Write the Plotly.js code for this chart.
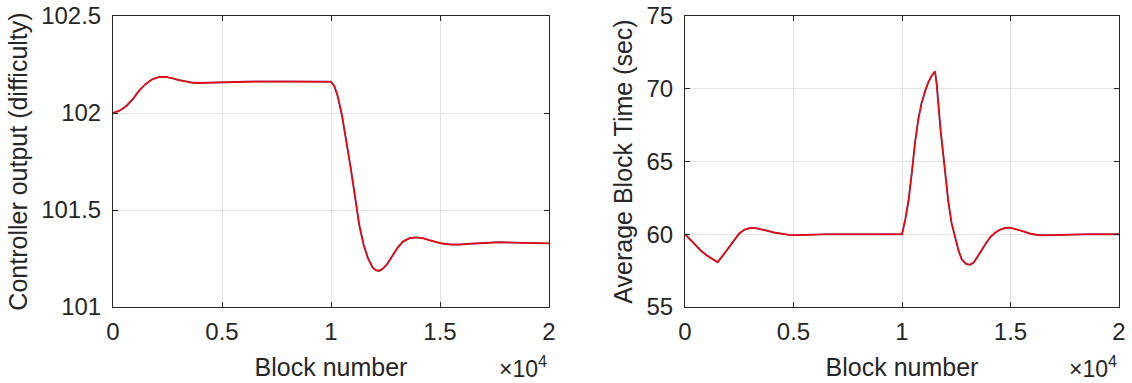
<!DOCTYPE html>
<html>
<head>
<meta charset="utf-8">
<script src="https://cdn.plot.ly/plotly-3.0.1.min.js"></script>
<style>html,body{margin:0;padding:0;background:#fff;}#chart{width:1132px;height:383px;}</style>
</head>
<body>
<div id="chart"></div>
<script>
// Left panel: controller output (difficulty) vs block number
const blocksLeft = [0, 300, 600, 900, 1200, 1500, 1800, 2100, 2400, 2700, 3000, 3300, 3600, 3900, 4300, 4800, 5400, 6500, 8000, 9500, 10000, 10150, 10300, 10500, 10700, 10900, 11100, 11300, 11500, 11700, 11900, 12050, 12200, 12350, 12550, 12800, 13050, 13300, 13600, 13900, 14200, 14500, 14800, 15100, 15500, 15900, 16400, 17000, 17700, 18400, 19200, 20000];
const difficulty = [102.0, 102.012, 102.035, 102.07, 102.115, 102.15, 102.174, 102.185, 102.186, 102.18, 102.17, 102.162, 102.157, 102.155, 102.156, 102.159, 102.161, 102.162, 102.162, 102.161, 102.161, 102.14, 102.09, 101.99, 101.86, 101.72, 101.57, 101.42, 101.32, 101.25, 101.205, 101.19, 101.186, 101.195, 101.217, 101.26, 101.305, 101.337, 101.355, 101.359, 101.355, 101.345, 101.335, 101.327, 101.322, 101.322, 101.326, 101.331, 101.334, 101.332, 101.329, 101.328];

// Right panel: average block time vs block number
const blocksRight = [0, 250, 500, 750, 1000, 1250, 1505, 1750, 2000, 2250, 2500, 2750, 3000, 3250, 3500, 3800, 4100, 4400, 4800, 5200, 5700, 6500, 8000, 10000, 10150, 10300, 10450, 10600, 10750, 10900, 11060, 11200, 11350, 11520, 11600, 11670, 11780, 11900, 12020, 12130, 12280, 12440, 12600, 12750, 12950, 13130, 13300, 13500, 13700, 13900, 14100, 14290, 14500, 14750, 14980, 15250, 15590, 15950, 16360, 16900, 17430, 18500, 20000];
const blockTime = [60.0, 59.6, 59.2, 58.85, 58.55, 58.3, 58.08, 58.55, 59.05, 59.6, 60.05, 60.32, 60.43, 60.42, 60.35, 60.24, 60.12, 60.03, 59.96, 59.94, 59.96, 60.0, 60.0, 60.0, 61.0, 62.3, 64.2, 66.3, 67.9, 69.0, 69.8, 70.4, 70.85, 71.2, 70.3, 68.9, 67.1, 65.5, 63.8, 62.3, 60.8, 59.77, 58.9, 58.29, 57.97, 57.9, 58.05, 58.5, 59.0, 59.45, 59.85, 60.1, 60.3, 60.43, 60.45, 60.36, 60.2, 60.02, 59.93, 59.94, 59.97, 60.0, 60.0];

const xTickVals = [0, 5000, 10000, 15000, 20000];
const xTickText = ['0', '0.5', '1', '1.5', '2'];
const yLeftTicks = [101, 101.5, 102, 102.5];
const yLeftText = ['101', '101.5', '102', '102.5'];
const yRightTicks = [55, 60, 65, 70, 75];

const FONT = 'Liberation Sans, Arial, sans-serif';
const AX = '#262626';
const TICK = 24, TITLE = 25;

function mk(x, y, xa, ya) {
  return [
    {x: x, y: y, xaxis: xa, yaxis: ya, type: 'scatter', mode: 'lines', line: {color: 'rgb(140,40,80)', width: 1.9, shape: 'linear'}, hoverinfo: 'skip', showlegend: false},
    {x: x, y: y, xaxis: xa, yaxis: ya, type: 'scatter', mode: 'lines', line: {color: 'rgb(255,0,0)', width: 1.2, shape: 'linear'}, showlegend: false}
  ];
}

const data = [].concat(mk(blocksLeft, difficulty, 'x', 'y'), mk(blocksRight, blockTime, 'x2', 'y2'));

function xax(dom, anchor) {
  return {domain: dom, anchor: anchor, range: [0, 20000], tickvals: xTickVals, ticktext: xTickText,
    showgrid: true, gridcolor: '#e3e3e3', gridwidth: 1, zeroline: false,
    showline: true, linecolor: AX, linewidth: 1, mirror: 'ticks', ticks: 'inside', ticklen: 5, tickcolor: AX,
    ticklabelstandoff: 3,
    tickfont: {family: FONT, size: TICK, color: AX},
    title: {text: 'Block number', font: {family: FONT, size: TITLE, color: AX}, standoff: 14}};
}
function yax(dom, anchor, range, tv, tt, title) {
  return {domain: dom, anchor: anchor, range: range, tickvals: tv, ticktext: tt,
    showgrid: true, gridcolor: '#e3e3e3', gridwidth: 1, zeroline: false,
    showline: true, linecolor: AX, linewidth: 1, mirror: 'ticks', ticks: 'inside', ticklen: 5, tickcolor: AX,
    ticklabelstandoff: 6,
    tickfont: {family: FONT, size: TICK, color: AX},
    title: {text: title, font: {family: FONT, size: TITLE, color: AX}, standoff: 6}};
}

const yd = [1 - 307 / 383, 1 - 16 / 383];
const layout = {
  width: 1132, height: 383,
  margin: {l: 0, r: 0, t: 0, b: 0},
  paper_bgcolor: '#fff', plot_bgcolor: '#fff',
  xaxis: xax([113 / 1132, 549 / 1132], 'y'),
  yaxis: yax(yd, 'x', [101, 102.5], yLeftTicks, yLeftText, 'Controller output (difficulty)'),
  xaxis2: xax([685 / 1132, 1119 / 1132], 'y2'),
  yaxis2: yax(yd, 'x2', [55, 75], yRightTicks, yRightTicks.map(String), 'Average Block Time (sec)'),
  annotations: [
    {text: '×10<sup>4</sup>', x: 549 / 1132, y: 1 - 367 / 383, xref: 'paper', yref: 'paper', xanchor: 'right', yanchor: 'middle', showarrow: false, font: {family: FONT, size: 23, color: AX}},
    {text: '×10<sup>4</sup>', x: 1119 / 1132, y: 1 - 367 / 383, xref: 'paper', yref: 'paper', xanchor: 'right', yanchor: 'middle', showarrow: false, font: {family: FONT, size: 23, color: AX}}
  ]
};

Plotly.newPlot('chart', data, layout, {staticPlot: true, displayModeBar: false});
</script>
</body>
</html>
